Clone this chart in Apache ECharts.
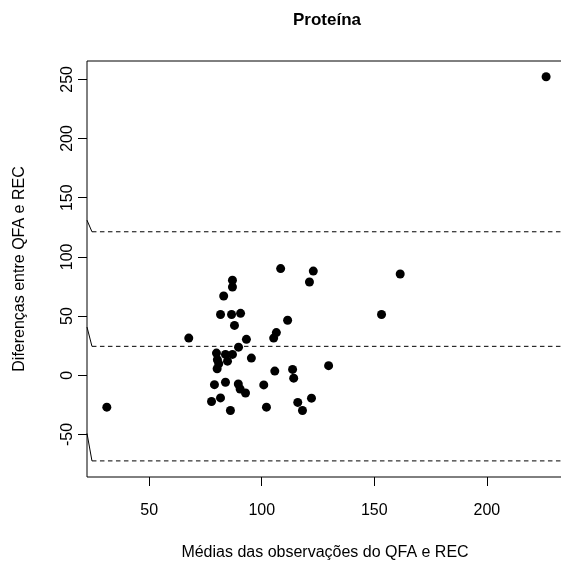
<!DOCTYPE html>
<html>
<head>
<meta charset="utf-8">
<script src="https://cdn.jsdelivr.net/npm/echarts@6/dist/echarts.min.js"></script>
<style>html,body{margin:0;padding:0;background:#fff;}#c{width:561px;height:562px;}</style>
</head>
<body>
<div id="c"></div>
<script>
// Means of the two methods (x) and their differences (y)
const xMeans = [31.2, 67.6, 226.3, 161.5, 153.2, 129.7, 87.0, 87.0, 83.1, 81.7,
  86.6, 90.6, 87.9, 108.4, 122.9, 121.2, 111.5, 106.5, 105.3, 93.2,
  89.7, 79.9, 83.9, 87.0, 95.4, 84.8, 80.3, 80.9, 80.2, 105.8,
  113.7, 114.2, 79.0, 83.9, 89.6, 90.4, 92.8, 100.9, 81.7, 77.7,
  86.1, 102.1, 122.1, 116.0, 118.1];
const yDiffs = [-27.0, 31.4, 252.2, 85.5, 51.3, 8.1, 80.2, 74.5, 66.9, 51.3,
  51.3, 52.3, 42.1, 90.1, 88.0, 78.8, 46.4, 36.0, 31.4, 30.3,
  23.7, 18.7, 17.6, 17.6, 14.5, 11.9, 13.1, 9.7, 5.5, 3.5,
  4.9, -2.5, -8.0, -5.9, -7.4, -11.6, -15.0, -8.2, -19.2, -22.2,
  -29.8, -27.0, -19.4, -23.0, -29.8];
// Mean difference and limits of agreement
const limits = [121.2, 24.4, -72.4];
const limitLeaderStart = [131, 40.7, -49.2];
const xTicks = [50, 100, 150, 200];
const yTicks = [-50, 0, 50, 100, 150, 200, 250];
const xRange = [22.4, 233.8];
const yRange = [-86.0, 265.5];
const leaderEndX = 24.6;

const font = 'Liberation Sans, Arial, sans-serif';
const chart = echarts.init(document.getElementById('c'), null, {renderer: 'canvas'});

const series = [{
  type: 'scatter',
  data: xMeans.map((x, i) => [x, yDiffs[i]]),
  symbol: 'circle',
  symbolSize: 9,
  itemStyle: {color: '#000', opacity: 1},
  silent: true,
  z: 5
}];
limits.forEach((v, i) => {
  series.push({
    type: 'line',
    data: [[leaderEndX, v], [xRange[1] + 20, v]],
    symbol: 'none',
    lineStyle: {color: '#000', width: 1, type: [4.5, 3.5]},
    silent: true,
    animation: false
  });
  series.push({
    type: 'line',
    data: [[xRange[0], limitLeaderStart[i]], [leaderEndX, v]],
    symbol: 'none',
    lineStyle: {color: '#000', width: 1},
    silent: true,
    animation: false
  });
});

chart.setOption({
  animation: false,
  backgroundColor: '#fff',
  title: {
    text: 'Proteína',
    left: 322,
    textAlign: 'center',
    top: 7,
    textStyle: {fontFamily: font, fontWeight: 'bold', fontSize: 17, color: '#000'}
  },
  grid: {
    left: 87, top: 61, width: 476, height: 416,
    outerBoundsMode: 'none',
    containLabel: false,
    show: true, borderColor: '#000', borderWidth: 1, backgroundColor: 'transparent'
  },
  xAxis: {
    type: 'value',
    min: xRange[0], max: xRange[1],
    axisLine: {show: false, onZero: false},
    splitLine: {show: false},
    axisTick: {show: true, length: 9, inside: false, customValues: xTicks, lineStyle: {color: '#000'}},
    axisLabel: {customValues: xTicks, margin: 26, fontFamily: font, fontSize: 16, color: '#000'},
    name: 'Médias das observações do QFA e REC',
    nameLocation: 'middle',
    nameGap: 68,
    nameTextStyle: {fontFamily: font, fontSize: 16, color: '#000'}
  },
  yAxis: {
    type: 'value',
    min: yRange[0], max: yRange[1],
    axisLine: {show: false, onZero: false},
    splitLine: {show: false},
    axisTick: {show: true, length: 9, inside: false, customValues: yTicks, lineStyle: {color: '#000'}},
    axisLabel: {customValues: yTicks, rotate: 90, margin: 11, fontFamily: font, fontSize: 16, color: '#000'},
    name: 'Diferenças entre QFA e REC',
    nameLocation: 'middle',
    nameRotate: 90,
    nameGap: 59,
    nameTextStyle: {fontFamily: font, fontSize: 16, color: '#000'}
  },
  series: series
});
</script>
</body>
</html>
